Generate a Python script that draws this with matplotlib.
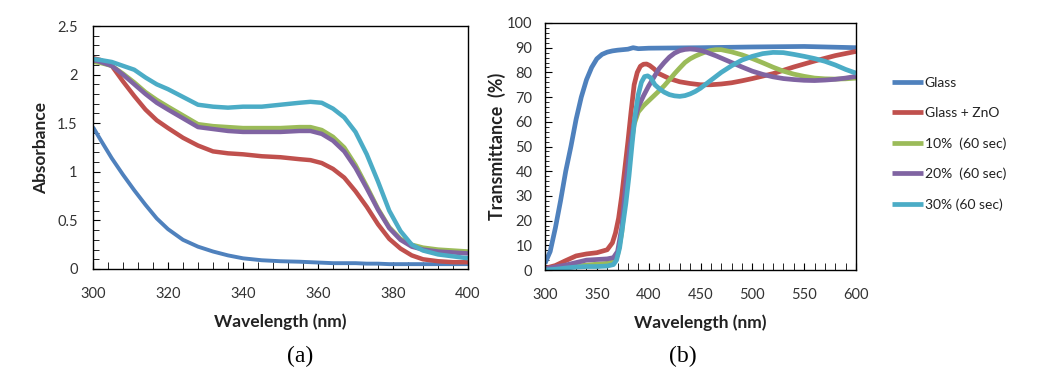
import matplotlib
matplotlib.use("Agg")
import matplotlib.pyplot as plt
from matplotlib.ticker import MultipleLocator

plt.rcParams['font.family'] = ['Lato', 'DejaVu Sans']

# ---------------- Panel (a): absorbance ----------------
wl_a = [300, 302, 305, 308, 311, 314, 317, 320, 324, 328, 332, 336, 340, 345, 350,
        355, 358, 361, 364, 367, 370, 373, 376, 379, 382, 385, 388, 392, 396, 400]
abs_glass = [1.46, 1.33, 1.14, 0.97, 0.81, 0.66, 0.52, 0.41, 0.30, 0.23, 0.18, 0.14, 0.11, 0.09, 0.08,
             0.075, 0.07, 0.065, 0.06, 0.06, 0.06, 0.055, 0.055, 0.05, 0.05, 0.05, 0.05, 0.05, 0.05, 0.05]
abs_zno = [2.17, 2.15, 2.09, 1.93, 1.78, 1.64, 1.53, 1.45, 1.35, 1.27, 1.21, 1.19, 1.18, 1.16, 1.15,
           1.13, 1.12, 1.09, 1.03, 0.94, 0.80, 0.64, 0.46, 0.31, 0.21, 0.14, 0.10, 0.08, 0.07, 0.07]
abs_10 = [2.13, 2.12, 2.09, 2.01, 1.92, 1.82, 1.74, 1.67, 1.58, 1.49, 1.47, 1.46, 1.45, 1.45, 1.45,
          1.46, 1.46, 1.43, 1.36, 1.25, 1.07, 0.85, 0.62, 0.43, 0.31, 0.25, 0.22, 0.20, 0.19, 0.18]
abs_20 = [2.15, 2.13, 2.09, 2.00, 1.90, 1.80, 1.71, 1.64, 1.55, 1.46, 1.44, 1.42, 1.41, 1.41, 1.41,
          1.42, 1.42, 1.39, 1.32, 1.21, 1.04, 0.83, 0.61, 0.42, 0.30, 0.23, 0.20, 0.18, 0.17, 0.16]
abs_30 = [2.16, 2.15, 2.13, 2.09, 2.05, 1.97, 1.90, 1.85, 1.77, 1.69, 1.67, 1.66, 1.67, 1.67, 1.69,
          1.71, 1.72, 1.71, 1.65, 1.56, 1.41, 1.18, 0.90, 0.60, 0.39, 0.25, 0.19, 0.15, 0.13, 0.11]

# ---------------- Panel (b): transmittance ----------------
wl_glass = [300, 305, 310, 315, 320, 325, 330, 335, 340, 345, 350, 355, 360, 365, 370,
            380, 385, 390, 400, 450, 500, 550, 600]
tr_glass = [2.7, 7.5, 17, 28, 40, 50, 61, 70, 77, 82, 85.5, 87.3, 88.2, 88.7, 89,
            89.4, 90.0, 89.6, 89.8, 90, 90.3, 90.5, 90]

wl_zno = [300, 310, 320, 330, 340, 350, 360, 365, 368, 371, 374, 377, 380, 383, 386, 389, 392,
          395, 398, 401, 405, 410, 420, 430, 440, 450, 460, 470, 480, 490, 500, 520, 540, 560, 580, 600]
tr_zno = [0.7, 1.8, 3.8, 5.7, 6.5, 7, 8.2, 11, 15, 21, 30, 41, 52, 64, 75, 80, 82.5,
          83.3, 83.4, 82.8, 81.5, 79.5, 77.5, 76.2, 75.5, 75, 75, 75.3, 75.8, 76.6, 77.5, 79.5, 82.2, 84.6, 86.8, 88.5]

wl_doped = [300, 320, 340, 360, 366, 370, 374, 378, 382, 386, 390, 395, 400, 405, 410, 415, 420,
            425, 430, 435, 440, 445, 450, 455, 460, 465, 470, 480, 490, 500, 510, 520, 530, 540,
            550, 560, 570, 580, 590, 600]
tr_10 = [0.3, 1, 2, 2.7, 3.5, 6, 15, 32, 48, 59, 64, 66.5, 68.5, 70.5, 72.5, 74.6, 77,
         79.5, 81.8, 84, 85.5, 86.6, 87.5, 88.3, 88.9, 89.2, 89.2, 88.3, 87.1, 85.6, 83.9, 82.1, 80.5, 79.3,
         78.4, 77.7, 77.4, 77.3, 77.4, 77.7]
tr_20 = [0.5, 2, 4, 4.5, 5, 7.5, 17, 35, 50, 60, 66, 70.5, 74.5, 78, 81.5, 84, 86.2,
         87.8, 88.8, 89.3, 89.5, 89.3, 88.9, 88.3, 87.5, 86.7, 85.8, 84, 82.2, 80.5, 79.2, 78.2, 77.5, 77.1,
         76.8, 76.7, 76.9, 77.2, 77.7, 78.4]

wl_30 = [300, 310, 320, 330, 340, 350, 360, 366, 369, 372, 375, 378, 381, 384, 387, 390, 393, 396,
         399, 402, 406, 410, 415, 420, 425, 430, 435, 440, 445, 450, 460, 470, 480, 490, 500, 510,
         520, 530, 540, 550, 560, 570, 580, 590, 600]
tr_30 = [0, 0.3, 0.8, 1.2, 1.4, 1.4, 1.6, 2.2, 4, 9, 18, 27, 38, 51, 63, 71, 76, 78.3,
         78.6, 77.8, 75, 73.5, 72, 71, 70.5, 70.3, 70.6, 71.3, 72.3, 73.6, 76.8, 80, 82.7, 85, 86.5, 87.6,
         88.1, 88, 87.3, 86.5, 85.6, 84.5, 83, 81.2, 79.7]

labels = ['Glass', 'Glass + ZnO', '10%  (60 sec)', '20%  (60 sec)', '30% (60 sec)']
colors = ['#4F81BD', '#C0504D', '#9BBB59', '#8064A2', '#4BACC6']

W, H = 1047, 377
fig = plt.figure(figsize=(W / 100, H / 100), dpi=100)

def box(l, t, r, b):
    return [l / W, 1 - b / H, (r - l) / W, (b - t) / H]

tick_fs = 10.5
txt_col = '#333333'

# ---- panel a
axa = fig.add_axes(box(93, 26, 468, 269))
series_a = [abs_glass, abs_zno, abs_10, abs_20, abs_30]
widths_a = [2.8, 3.2, 3.2, 3.2, 3.2]
for ys, c, lw in zip(series_a, colors, widths_a):
    axa.plot(wl_a, ys, color=c, lw=lw, solid_capstyle='butt')
axa.set_xlim(300, 400)
axa.set_ylim(0, 2.5)
axa.xaxis.set_major_locator(MultipleLocator(20))
axa.xaxis.set_minor_locator(MultipleLocator(4))
axa.set_yticks([0, 0.5, 1, 1.5, 2, 2.5])
axa.set_yticklabels(['0', '0.5', '1', '1.5', '2', '2.5'])
axa.yaxis.set_minor_locator(MultipleLocator(0.1))
axa.tick_params(which='both', direction='in', labelsize=tick_fs, colors='black', labelcolor=txt_col)
axa.tick_params(axis='y', which='major', length=5, pad=11)
axa.tick_params(axis='y', which='minor', length=4)
axa.tick_params(axis='x', which='major', length=5, pad=13)
axa.tick_params(axis='x', which='minor', length=5)
axa.set_xlabel('Wavelength (nm)', fontsize=12.5, fontweight='bold', labelpad=9, color='#222222')
axa.set_ylabel('Absorbance', fontsize=12.5, fontweight='bold', labelpad=6, color='#222222')
for s in axa.spines.values():
    s.set_linewidth(1.0)
    s.set_color('black')

# ---- panel b
axb = fig.add_axes(box(545, 23, 856, 270))
series_b = [(wl_glass, tr_glass), (wl_zno, tr_zno), (wl_doped, tr_10), (wl_doped, tr_20), (wl_30, tr_30)]
handles = []
for (xs, ys), c, lab in zip(series_b, colors, labels):
    h, = axb.plot(xs, ys, color=c, lw=3.4, label=lab, solid_capstyle='butt')
    handles.append(h)
axb.set_xlim(300, 600)
axb.set_ylim(0, 100)
axb.xaxis.set_major_locator(MultipleLocator(50))
axb.xaxis.set_minor_locator(MultipleLocator(10))
axb.yaxis.set_major_locator(MultipleLocator(10))
axb.yaxis.set_minor_locator(MultipleLocator(2))
axb.tick_params(which='both', direction='in', labelsize=tick_fs, colors='black', labelcolor=txt_col)
axb.tick_params(axis='y', which='major', length=5, pad=9)
axb.tick_params(axis='y', which='minor', length=3)
axb.tick_params(axis='x', which='major', length=5, pad=13)
axb.tick_params(axis='x', which='minor', length=5)
axb.set_xlabel('Wavelength (nm)', fontsize=12.5, fontweight='bold', labelpad=9, color='#222222')
axb.set_ylabel('Transmittance  (%)', fontsize=12.8, fontweight='bold', labelpad=1, color='#222222')
for s in axb.spines.values():
    s.set_linewidth(1.0)
    s.set_color('black')

leg = fig.legend(handles=handles, labels=labels, loc='upper left',
                 bbox_to_anchor=(892 / W, 1 - 77 / H), frameon=False,
                 fontsize=10, handlelength=2.2, handletextpad=0.15,
                 labelspacing=1.3, borderpad=0, borderaxespad=0)
for ln in leg.get_lines():
    ln.set_linewidth(3.4)
for t in leg.get_texts():
    t.set_color('#222222')

fig.text(300 / W, 1 - 356 / H, '(a)', ha='center', va='center', fontsize=17,
         family=['Liberation Serif', 'DejaVu Serif'])
fig.text(683 / W, 1 - 356 / H, '(b)', ha='center', va='center', fontsize=17,
         family=['Liberation Serif', 'DejaVu Serif'])

fig.savefig('out.png', dpi=100)
